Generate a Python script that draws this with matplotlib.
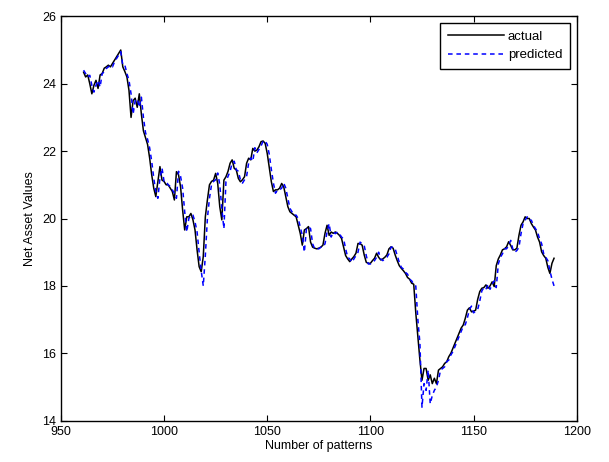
import matplotlib
matplotlib.use("Agg")
import matplotlib.pyplot as plt
import numpy as np

# pattern index range
start_pattern = 961
end_pattern = 1189

actual = [
    24.34, 24.2, 24.26, 24.0, 23.7, 23.95, 24.1, 23.86, 24.26, 24.3,
    24.46, 24.5, 24.55, 24.5, 24.6, 24.7, 24.8, 24.9, 25.0, 24.5,
    24.36, 24.2, 23.8, 23.0, 23.5, 23.57, 23.3, 23.7, 23.1, 22.6,
    22.4, 22.2, 21.8, 21.3, 20.9, 20.65, 21.1, 21.54, 21.14, 21.1,
    21.0, 21.0, 20.9, 20.8, 20.55, 21.39, 21.3, 20.94, 20.25, 19.66,
    20.05, 20.05, 20.15, 19.96, 19.66, 19.07, 18.57, 18.42, 18.87, 20.05,
    20.55, 21.0, 21.1, 21.14, 21.34, 21.04, 20.35, 19.96, 21.14, 21.24,
    21.4, 21.64, 21.74, 21.49, 21.44, 21.19, 21.09, 21.15, 21.24, 21.64,
    21.79, 21.74, 22.08, 22.0, 22.03, 22.13, 22.28, 22.3, 22.23, 21.93,
    21.5, 21.09, 20.8, 20.85, 20.85, 20.9, 21.04, 20.94, 20.65, 20.35,
    20.2, 20.15, 20.1, 20.05, 19.8, 19.56, 19.21, 19.66, 19.7, 19.76,
    19.3, 19.15, 19.12, 19.1, 19.12, 19.15, 19.21, 19.56, 19.8, 19.5,
    19.6, 19.56, 19.6, 19.56, 19.5, 19.41, 19.16, 18.9, 18.8, 18.72,
    18.8, 18.87, 18.97, 19.26, 19.25, 19.21, 18.92, 18.7, 18.67, 18.67,
    18.75, 18.82, 18.97, 18.85, 18.77, 18.8, 18.85, 18.92, 19.1, 19.16,
    19.12, 18.92, 18.75, 18.6, 18.52, 18.45, 18.37, 18.25, 18.2, 18.08,
    18.05, 17.2, 16.5, 15.8, 15.2, 15.55, 15.55, 15.2, 15.36, 15.1,
    15.26, 15.1, 15.5, 15.55, 15.6, 15.7, 15.75, 15.9, 16.0, 16.15,
    16.3, 16.45, 16.6, 16.75, 16.84, 17.04, 17.28, 17.35, 17.23, 17.25,
    17.28, 17.6, 17.83, 17.93, 17.95, 18.03, 17.93, 18.0, 18.12, 17.98,
    18.6, 18.8, 18.92, 19.07, 19.1, 19.16, 19.31, 19.2, 19.07, 19.07,
    19.12, 19.5, 19.8, 19.9, 20.05, 20.0, 20.0, 19.85, 19.75, 19.66,
    19.45, 19.3, 19.01, 18.9, 18.82, 18.55, 18.37, 18.67, 18.82,
]

predicted = [
    24.4, 24.3, 24.2, 24.25, 23.95, 23.75, 23.95, 24.1, 23.9, 24.3,
    24.35, 24.45, 24.5, 24.55, 24.5, 24.65, 24.75, 24.85, 24.95, 24.55,
    24.55, 24.3, 24.1, 23.7, 23.1, 23.5, 23.55, 23.3, 23.6, 23.0,
    22.55, 22.35, 22.1, 21.7, 21.2, 20.8, 20.6, 21.2, 21.5, 21.1,
    21.1, 21.0, 20.95, 20.85, 20.75, 20.6, 21.4, 21.25, 20.9, 20.2,
    19.6, 20.0, 20.1, 20.1, 19.9, 19.6, 19.0, 18.45, 18.0, 18.9,
    20.0, 20.6, 21.0, 21.1, 21.15, 21.35, 21.0, 20.3, 19.7, 21.1,
    21.25, 21.4, 21.65, 21.7, 21.45, 21.4, 21.15, 21.05, 21.15, 21.25,
    21.65, 21.8, 21.7, 22.1, 21.95, 22.05, 22.15, 22.3, 22.3, 22.2,
    21.9, 21.45, 21.05, 20.75, 20.85, 20.85, 20.9, 21.05, 20.9, 20.6,
    20.3, 20.2, 20.1, 20.1, 20.0, 19.75, 19.5, 19.0, 19.7, 19.75,
    19.7, 19.25, 19.1, 19.1, 19.1, 19.15, 19.15, 19.25, 19.6, 19.85,
    19.45, 19.6, 19.55, 19.6, 19.55, 19.45, 19.4, 19.1, 18.85, 18.8,
    18.7, 18.8, 18.9, 19.0, 19.3, 19.25, 19.2, 18.9, 18.65, 18.65,
    18.7, 18.75, 18.85, 19.0, 18.8, 18.75, 18.8, 18.85, 18.95, 19.15,
    19.15, 19.1, 18.9, 18.7, 18.55, 18.5, 18.4, 18.35, 18.2, 18.15,
    18.05, 18.0, 17.0, 16.3, 14.4, 15.1, 14.9, 15.5, 14.5, 14.75,
    14.9, 15.0, 15.2, 15.5, 15.55, 15.6, 15.75, 15.8, 15.95, 16.05,
    16.2, 16.35, 16.5, 16.65, 16.8, 16.85, 17.05, 17.3, 17.4, 17.2,
    17.25, 17.3, 17.55, 17.85, 17.95, 17.9, 18.05, 17.9, 18.05, 18.15,
    17.95, 18.65, 18.85, 18.95, 19.1, 19.1, 19.2, 19.35, 19.1, 19.0,
    19.05, 19.15, 19.55, 19.85, 19.95, 20.05, 19.95, 19.95, 19.8, 19.7,
    19.6, 19.4, 19.25, 18.95, 18.85, 18.75, 18.45, 18.2, 18.0,
]

x_ticks = [950, 1000, 1050, 1100, 1150, 1200]
y_ticks = [14, 16, 18, 20, 22, 24, 26]

patterns = np.arange(start_pattern, end_pattern + 1)

plt.rcParams['font.family'] = ['Liberation Sans', 'DejaVu Sans']

fig = plt.figure(figsize=(6.09, 4.62), dpi=100)
ax = fig.add_axes([0.100, 0.0894, 0.847, 0.8753])

ax.plot(patterns, actual, color='black', linewidth=1.1, label='actual')
ax.plot(patterns, predicted, color='blue', linestyle='--', linewidth=1.1,
        dashes=(3, 2.5), label='predicted')

ax.set_xlim(950, 1200)
ax.set_ylim(14, 26)
ax.set_xticks(x_ticks)
ax.set_yticks(y_ticks)
ax.tick_params(direction='in', top=True, right=True, labelsize=9, length=4, width=0.8)
for s in ax.spines.values():
    s.set_linewidth(1.0)

ax.set_xlabel('Number of patterns', fontsize=9, labelpad=2)
ax.set_ylabel('Net Asset Values', fontsize=9, labelpad=4)

leg = ax.legend(loc='upper right', fontsize=9.5, fancybox=False, framealpha=1,
                edgecolor='black', borderaxespad=0.5, borderpad=0.6,
                labelspacing=0.45, handlelength=4.2, handletextpad=0.3)
leg.get_frame().set_linewidth(1.0)

fig.savefig('out.png', dpi=100)
